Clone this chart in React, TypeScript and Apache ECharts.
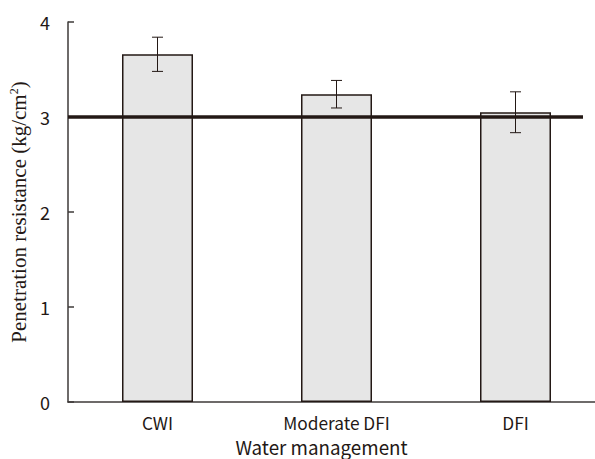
import React, { useEffect, useRef } from "react";
import * as echarts from "echarts";

const categories = ["CWI", "Moderate DFI", "DFI"];
const means = [3.66, 3.24, 3.05];
const errors = [0.18, 0.145, 0.215];
const referenceValue = 3;
const yTicks = { min: 0, max: 4, interval: 1 };

const DARK = "#231815";
const FONT = "'Noto Sans CJK JP', 'Noto Sans', sans-serif";
const SERIF = "'Liberation Serif', 'Times New Roman', serif";

export default function App() {
  const ref = useRef<HTMLDivElement>(null);
  useEffect(() => {
    document.body.style.margin = "0";
    document.body.style.overflow = "hidden";
    if (!ref.current) return;
    const chart = echarts.init(ref.current, null, { renderer: "svg" });
    const errData = categories.map((_, i) => [i, means[i] + errors[i], means[i] - errors[i]]);
    chart.setOption({
      animation: false,
      backgroundColor: "#ffffff",
      grid: { left: 68, top: 22, bottom: 57, width: 537, containLabel: false, outerBoundsMode: "none" },
      xAxis: {
        type: "category",
        data: categories,
        boundaryGap: true,
        axisLine: { show: true, lineStyle: { color: "#3e3a39", width: 1.5 } },
        axisTick: { show: false },
        axisLabel: { color: DARK, fontFamily: FONT, fontSize: 17.3, margin: 12 },
        name: "Water management",
        nameLocation: "middle",
        nameGap: 34,
        nameTextStyle: { color: DARK, fontFamily: FONT, fontSize: 18.8, lineHeight: 20, padding: [0, 30, 0, 0] },
        splitLine: { show: false },
      },
      yAxis: {
        type: "value",
        min: yTicks.min,
        max: yTicks.max,
        interval: yTicks.interval,
        axisLine: { show: true, lineStyle: { color: "#3e3a39", width: 1.5 } },
        axisTick: { show: true, inside: true, length: 6, lineStyle: { color: "#3e3a39", width: 1.5 } },
        axisLabel: { color: DARK, fontFamily: FONT, fontSize: 18, margin: 18 },
        splitLine: { show: false },
        name: "Penetration resistance (kg/cm{sup|2})",
        nameLocation: "middle",
        nameGap: 29,
        nameRotate: 90,
        nameTextStyle: {
          color: DARK,
          fontFamily: SERIF,
          fontSize: 21,
          rich: {
            sup: {
              fontFamily: SERIF,
              fontSize: 12,
              verticalAlign: "top",
              color: DARK,
              padding: [0, 0, 10, 0],
            },
          },
        },
      },
      series: [
        {
          type: "bar",
          data: means,
          barWidth: 71,
          itemStyle: { color: "#e6e6e6", borderColor: DARK, borderWidth: 1.5 },
          z: 2,
          markLine: {
            silent: true,
            symbol: "none",
            label: { show: false },
            lineStyle: { color: DARK, width: 3.5, type: "solid" },
            z: 5,
            data: [[{ yAxis: referenceValue, x: 68 }, { yAxis: referenceValue, x: 583 }]],
          },
        },
        {
          type: "custom",
          data: errData,
          z: 10,
          renderItem: (params: any, api: any) => {
            const idx = api.value(0);
            const hi = api.coord([idx, api.value(1)]);
            const lo = api.coord([idx, api.value(2)]);
            const cap = 5.5;
            const style = { stroke: DARK, lineWidth: 1 };
            return {
              type: "group",
              children: [
                { type: "line", shape: { x1: hi[0], y1: hi[1], x2: lo[0], y2: lo[1] }, style },
                { type: "line", shape: { x1: hi[0] - cap, y1: hi[1], x2: hi[0] + cap, y2: hi[1] }, style },
                { type: "line", shape: { x1: lo[0] - cap, y1: lo[1], x2: lo[0] + cap, y2: lo[1] }, style },
              ],
            };
          },
        },
      ],
    });
    return () => chart.dispose();
  }, []);
  return <div ref={ref} style={{ width: 595, height: 459, overflow: "hidden" }} />;
}
